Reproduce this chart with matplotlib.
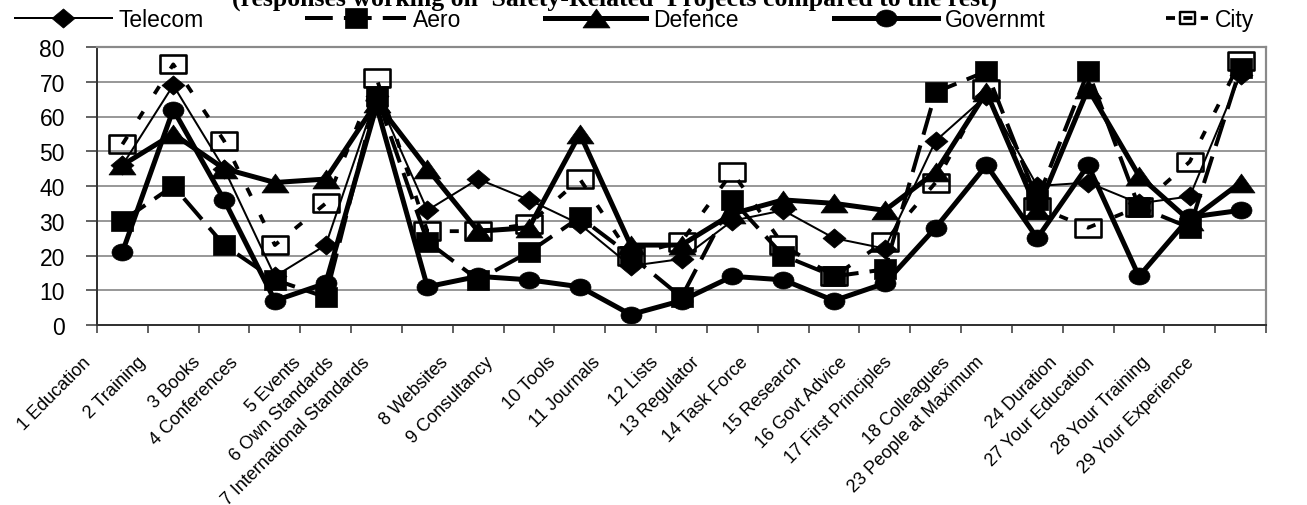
import numpy as np
import matplotlib
matplotlib.use("Agg")
import matplotlib.pyplot as plt
from matplotlib.path import Path
from matplotlib.transforms import Affine2D, ScaledTranslation
from matplotlib.font_manager import FontProperties
from matplotlib.lines import Line2D

plt.rcParams['lines.scale_dashes'] = False

# ---------------- data ----------------
categories = ["1 Education", "2 Training", "3 Books", "4 Conferences", "5 Events",
              "6 Own Standards", "7 International Standards", "8 Websites",
              "9 Consultancy", "10 Tools", "11 Journals", "12 Lists", "13 Regulator",
              "14 Task Force", "15 Research", "16 Govt Advice", "17 First Principles",
              "18 Colleagues", "23 People at Maximum", "24 Duration",
              "27 Your Education", "28 Your Training", "29 Your Experience"]

telecom = [46, 69, 45, 14, 23, 66, 33, 42, 36, 29, 17, 19, 30, 33, 25, 22, 53, 66, 40, 41, 35, 37, 72]
aero    = [30, 40, 23, 13, 8, 66, 24, 13, 21, 31, 20, 8, 36, 20, 14, 16, 67, 73, 36, 73, 34, 28, 74]
defence = [46, 55, 45, 41, 42, 64, 45, 27, 28, 55, 23, 23, 32, 36, 35, 33, 44, 67, 33, 68, 43, 30, 41]
govt    = [21, 62, 36, 7, 12, 63, 11, 14, 13, 11, 3, 7, 14, 13, 7, 12, 28, 46, 25, 46, 14, 31, 33]
city    = [52, 75, 53, 23, 35, 71, 27, 27, 29, 42, 20, 24, 44, 23, 14, 24, 41, 68, 34, 28, 34, 47, 76]

series_names = ["Telecom", "Aero", "Defence", "Governmt", "City"]
yticks = list(range(0, 81, 10))
title = "(responses working on 'Safety-Related' Projects compared to the rest)"

# ---------------- figure ----------------
W, H = 1307, 506
fig = plt.figure(figsize=(W / 100, H / 100), dpi=100)
ax = fig.add_axes([97 / W, (H - 326) / H, (1266 - 97) / W, (326 - 48) / H])

PX = 72 / 100.0  # points per pixel


def closed(verts):
    codes = [Path.MOVETO] + [Path.LINETO] * (len(verts) - 2) + [Path.CLOSEPOLY]
    return Path(verts, codes)


m_diamond = closed([(-1.2, 0), (0, 1), (1.2, 0), (0, -1), (-1.2, 0)])
m_square = closed([(-1.1, -1), (1.1, -1), (1.1, 1), (-1.1, 1), (-1.1, -1)])
m_tri = closed([(-1, -0.7), (1, -0.7), (0, 0.7), (-1, -0.7)])
m_ell = Path.unit_circle().transformed(Affine2D().scale(1, 0.81))
m_box = closed([(-1.35, -1), (1.35, -1), (1.35, 1), (-1.35, 1), (-1.35, -1)])

styles = [
    dict(color='black', lw=2 * PX, ls='-', marker=m_diamond, ms=23 * PX, mfc='black', mec='black', mew=0.5),
    dict(color='black', lw=4 * PX, ls=(0, (20, 8)), marker=m_square, ms=22 * PX, mfc='black', mec='black', mew=0.5),
    dict(color='black', lw=5 * PX, ls='-', marker=m_tri, ms=27 * PX, mfc='black', mec='black', mew=0.5),
    dict(color='black', lw=5 * PX, ls='-', marker=m_ell, ms=21 * PX, mfc='black', mec='black', mew=0.5),
    dict(color='black', lw=3.8 * PX, ls=(0, (6.5, 15)), marker=m_box, ms=25 * PX, mfc='none', mec='black', mew=2.6 * PX),
]

x = np.arange(len(categories))
lines = []
for vals, name, st in zip([telecom, aero, defence, govt, city], series_names, styles):
    ln, = ax.plot(x, vals, label=name, solid_joinstyle='round', dash_capstyle='butt',
                  dash_joinstyle='round', clip_on=False, **st)
    lines.append(ln)

# ---------------- axes ----------------
ax.set_xlim(-0.5, len(categories) - 0.5)
ax.set_ylim(0, 80)
ax.set_xticks(np.arange(-0.5, len(categories), 1))
ax.set_xticklabels([])
ax.set_yticks(yticks)
ax.set_yticklabels([str(v) for v in yticks], fontfamily='Liberation Sans', fontsize=16.5)
ax.tick_params(axis='x', direction='out', length=8 * PX, width=1.5 * PX, color='#333333')
ax.tick_params(axis='y', direction='out', length=11 * PX, width=1.5 * PX, color='#333333', pad=21 * PX)
ax.yaxis.grid(True, color='#808080', lw=1.6 * PX)
ax.set_axisbelow(True)
for side in ['top', 'right']:
    ax.spines[side].set_color('#8a8a8a')
    ax.spines[side].set_linewidth(2.2 * PX)
for side in ['left', 'bottom']:
    ax.spines[side].set_color('#333333')
    ax.spines[side].set_linewidth(2 * PX)

# ---------------- rotated category labels ----------------
fig.canvas.draw()
renderer = fig.canvas.get_renderer()
fp = FontProperties(family='Liberation Sans', size=13)
for i, lab in enumerate(categories):
    w, h, d = renderer.get_text_width_height_descent(lab, fp, ismath=False)
    dx = -(16 + 0.25 * w)
    tr = ax.get_xaxis_transform() + ScaledTranslation(dx / 100, -28 / 100, fig.dpi_scale_trans)
    ax.text(x[i], 0, lab, rotation=45, rotation_mode='anchor', ha='right', va='top',
            fontproperties=fp, transform=tr, clip_on=False)

# ---------------- legend (one entry each, placed along the top) ----------------
leg_fp = FontProperties(family='Liberation Sans', size=16.5)
fs_px = 16.5 / PX
city_proxy = Line2D([], [], color='black', lw=3.8 * PX, ls=(0, (6.5, 6)), marker=m_box,
                    ms=15 * PX, mfc='none', mec='black', mew=2.4 * PX, dash_capstyle='butt')
handles = [lines[0], lines[1], lines[2], lines[3], city_proxy]
starts = [15, 305, 545, 834, 1166]
hlens = [97, 101, 101, 104, 42]
for hd, name, x0, hl in zip(handles, series_names, starts, hlens):
    fig.legend(handles=[hd], labels=[name], loc='center left',
               bbox_to_anchor=(x0 / W, 1 - 20.5 / H), frameon=False, prop=leg_fp,
               handlelength=hl / fs_px, handletextpad=0.3, borderpad=0,
               borderaxespad=0, numpoints=1)

# ---------------- title (top part cut off as in the source) ----------------
fig.text(615 / W, 1 - 6 / H, title, ha='center', va='baseline',
         fontfamily='Liberation Serif', fontweight='bold', fontsize=18.5)

fig.savefig('out.png', dpi=100)
